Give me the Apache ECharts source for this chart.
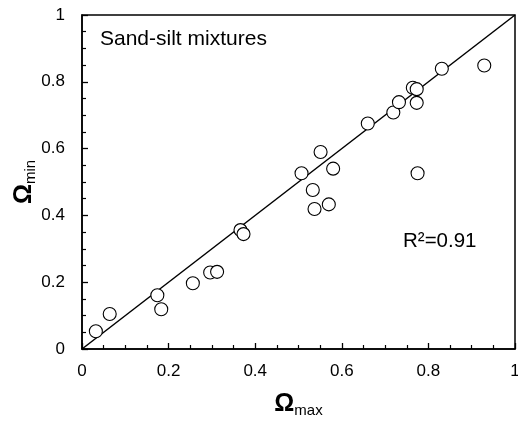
<!DOCTYPE html>
<html>
<head>
<meta charset="utf-8">
<script src="https://cdn.jsdelivr.net/npm/echarts@6/dist/echarts.min.js"></script>
<style>
  html, body { margin: 0; padding: 0; background: #fff; }
  #main { width: 518px; height: 422px; }
</style>
</head>
<body>
<div id="main"></div>
<script>
// measured Omega_max / Omega_min pairs (sand-silt mixtures)
var omegaMax = [0.032, 0.064, 0.174, 0.183, 0.256, 0.296, 0.312, 0.366, 0.373,
  0.507, 0.533, 0.537, 0.551, 0.570, 0.580, 0.660, 0.719, 0.732, 0.764, 0.773,
  0.773, 0.775, 0.831, 0.929]
var omegaMin = [0.053, 0.105, 0.161, 0.119, 0.197, 0.229, 0.231, 0.356, 0.344,
  0.526, 0.476, 0.419, 0.590, 0.433, 0.540, 0.675, 0.708, 0.739, 0.782, 0.778,
  0.737, 0.526, 0.839, 0.849]
// 1:1 line
var lineX = [0, 1]
var lineY = [0, 1]
var tickLabels = ['0', '0.2', '0.4', '0.6', '0.8', '1']

var points = omegaMax.map(function(v, i) { return [v, omegaMin[i]] })
var linePts = lineX.map(function(v, i) { return [v, lineY[i]] })

function fmt(v) {
  var idx = Math.round(v / 0.2)
  return tickLabels[idx] || ''
}

var font = 'Liberation Sans, Arial, sans-serif'

var nameRich = {
  o: { fontSize: 25, fontWeight: 'bold', fontFamily: font, color: '#000' },
  s: { fontSize: 15, fontFamily: font, color: '#000', padding: [12, 0, 0, 0] }
}

function makeAxis(extra) {
  var axis = {
    type: 'value',
    min: 0,
    max: 1,
    interval: 0.2,
    nameLocation: 'middle',
    nameMoveOverlap: false,
    axisLine: { lineStyle: { color: '#000', width: 1.5 } },
    axisTick: { inside: true, length: 6, lineStyle: { color: '#000', width: 1.3 } },
    minorTick: { show: true, splitNumber: 4, length: 4, lineStyle: { color: '#000', width: 1.2 } },
    splitLine: { show: false },
    axisLabel: { color: '#000', fontSize: 17, fontFamily: font, formatter: fmt, margin: extra.margin },
    nameTextStyle: { rich: nameRich }
  }
  axis.name = extra.name
  axis.nameGap = extra.nameGap
  if (extra.nameRotate != null) axis.nameRotate = extra.nameRotate
  return axis
}

var myChart = echarts.init(document.getElementById('main'))

var option = {
  animation: false,
  backgroundColor: '#fff',
  textStyle: { fontFamily: font, fontSize: 17 },
  grid: {
    left: 82, right: 3, top: 15, bottom: 73,
    containLabel: false,
    outerBoundsMode: 'none',
    show: true, borderColor: '#000', borderWidth: 1.5
  },
  xAxis: makeAxis({ name: '{o|Ω}{s|max}', nameGap: 42, margin: 14 }),
  yAxis: makeAxis({ name: '{o|Ω}{s|min}', nameGap: 44, nameRotate: 90, margin: 17 }),
  graphic: [
    {
      type: 'text', left: 100, top: 29,
      style: { text: 'Sand-silt mixtures', fontSize: 21, fontFamily: font, fill: '#000' }
    },
    {
      type: 'text', left: 403, top: 231,
      style: { text: 'R²=0.91', fontSize: 20.5, fontFamily: font, fill: '#000' }
    }
  ],
  series: [
    {
      type: 'line',
      data: linePts,
      symbol: 'none',
      lineStyle: { color: '#000', width: 1.5 },
      z: 2
    },
    {
      type: 'scatter',
      data: points,
      symbol: 'circle',
      symbolSize: 13,
      itemStyle: { color: '#fff', borderColor: '#000', borderWidth: 1.1, opacity: 1 },
      z: 3
    }
  ]
}

myChart.setOption(option)
</script>
</body>
</html>
